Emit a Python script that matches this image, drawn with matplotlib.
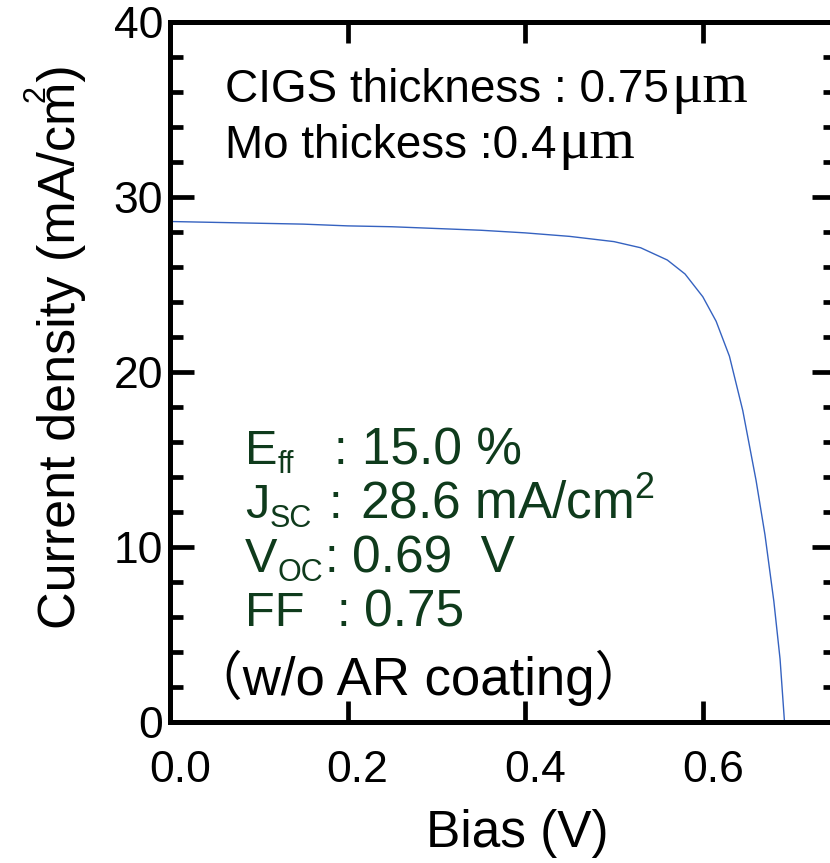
import matplotlib
matplotlib.use("Agg")
import matplotlib.pyplot as plt
from matplotlib.ticker import MultipleLocator
from matplotlib.transforms import ScaledTranslation

plt.rcParams['font.family'] = ['Liberation Sans', 'Noto Sans CJK JP', 'DejaVu Sans']
plt.rcParams['mathtext.fontset'] = 'custom'
plt.rcParams['mathtext.rm'] = 'Liberation Sans'
plt.rcParams['mathtext.it'] = 'Liberation Sans'

# J-V curve of the CIGS cell (bias in V, current density in mA/cm2)
bias = [0.0, 0.05, 0.10, 0.15, 0.20, 0.25, 0.30, 0.35, 0.40, 0.45, 0.50,
        0.53, 0.56, 0.58, 0.60, 0.615, 0.63, 0.645, 0.66, 0.67, 0.68,
        0.687, 0.692]
current = [28.6, 28.55, 28.5, 28.45, 28.35, 28.3, 28.2, 28.1, 27.95, 27.75,
           27.45, 27.1, 26.4, 25.6, 24.3, 22.9, 20.9, 17.8, 13.8, 10.7, 6.9,
           3.6, 0.0]

x_ticks = [0.0, 0.2, 0.4, 0.6]
x_ticklabels = ['0.0', '0.2', '0.4', '0.6']
y_ticks = [0, 10, 20, 30, 40]

header_text = ['CIGS thickness : 0.75', 'Mo thickess :0.4']
header_unit = 'μm'
param_main = ['E', 'J', 'V', 'FF']
param_sub = ['ff', 'SC', 'OC', '']
param_values = ['15.0 %', r'28.6 mA/cm$^{2}$', '0.69  V', '0.75']
note = '（w/o AR coating）'

W, H = 830, 863
fig = plt.figure(figsize=(W / 100, H / 100), dpi=100)
ax = fig.add_axes([170 / W, 141 / H, 666 / W, 700 / H])
renderer = fig.canvas.get_renderer()


def px(x, y):
    """figure pixel (from top-left) -> figure fraction"""
    return x / W, 1 - y / H


def right_px(txt):
    return txt.get_window_extent(renderer).x1


ax.plot(bias, current, color='#3562c0', lw=1.0)

ax.set_xlim(0, 0.75)
ax.set_ylim(0, 40)
ax.set_xticks(x_ticks)
ax.set_xticklabels(x_ticklabels)
ax.set_yticks(y_ticks)
ax.yaxis.set_minor_locator(MultipleLocator(2))

for s in ax.spines.values():
    s.set_linewidth(3.6)

ax.tick_params(axis='x', which='major', direction='in', top=True, length=15,
               width=3.4, labelsize=32, pad=20)
ax.tick_params(axis='y', which='major', direction='in', right=True, length=17,
               width=3.4, labelsize=32, pad=5)
ax.tick_params(axis='y', which='minor', direction='in', right=True, length=9.5,
               width=3.4)

# x tick labels sit a little right of their ticks
shift = ScaledTranslation(10 / 100, 0, fig.dpi_scale_trans)
for lab in ax.get_xticklabels():
    lab.set_transform(lab.get_transform() + shift)

ax.set_xlabel('Bias (V)', fontsize=37)
ax.xaxis.set_label_coords((517 - 170) / 666, (722 - 833) / 700)
ax.xaxis.label.set_va('center')

ax.set_ylabel('Current density (mA/cm)', fontsize=37.5)
ax.yaxis.set_label_coords((62 - 170) / 666, (722 - 347) / 700)
ax.yaxis.label.set_va('center')
fig.text(*px(36, 94), '2', fontsize=22, rotation=90, ha='center', va='center')

# sample description, unit set in a serif face right after the number
for i, line in enumerate(header_text):
    y = 102 + 56 * i
    t = fig.text(*px(225, y), line, fontsize=33, ha='left', va='baseline')
    fig.text(right_px(t) / W + 2 / W, 1 - y / H, header_unit, fontsize=42,
             family='Liberation Serif', ha='left', va='baseline')

# cell parameters
green = '#0f3b1c'
colon_x = [333, 328, 324, 336]
value_x = [362, 360, 352, 364]
for i in range(len(param_main)):
    y = 464 + 54 * i
    t = fig.text(*px(245, y), param_main[i], fontsize=35, color=green,
                 ha='left', va='baseline')
    if param_sub[i]:
        fig.text(right_px(t) / W, 1 - (y + 9) / H, param_sub[i], fontsize=22,
                 color=green, ha='left', va='baseline')
    fig.text(*px(colon_x[i], y), ':', fontsize=35, color=green,
             ha='left', va='baseline')
    fig.text(*px(value_x[i], y), param_values[i], fontsize=37, color=green,
             ha='left', va='baseline')

fig.text(*px(190, 695), note, fontsize=38, ha='left', va='baseline')

# panel label, cut by the top edge
fig.text(*px(552, -11), '(b)', fontsize=36, ha='center', va='baseline')

fig.savefig('out.png', dpi=100)
